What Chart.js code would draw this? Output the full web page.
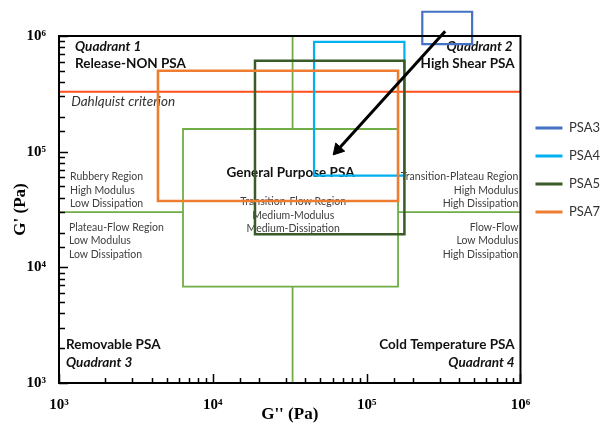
<!DOCTYPE html>
<html lang="en">
<head>
<meta charset="UTF-8">
<title>PSA viscoelastic windows</title>
<script src="https://cdn.jsdelivr.net/npm/chart.js"></script>
<style>
  html, body { margin: 0; padding: 0; background: #fff; }
  #wrap { width: 605px; height: 427px; }
</style>
</head>
<body>
<div id="wrap"><canvas id="chart"></canvas></div>
<script>
// window limits, G'' (x) and G' (y) in Pa
const psa3X = [2.3e5, 4.85e5], psa3Y = [8.5e5, 1.62e6];
const psa4X = [4.55e4, 1.76e5], psa4Y = [6.2e4, 8.9e5];
const psa5X = [1.88e4, 1.76e5], psa5Y = [1.93e4, 6.1e5];
const psa7X = [4.4e3, 1.6e5],  psa7Y = [3.75e4, 5.0e5];
const generalX = [6.4e3, 1.6e5], generalY = [6.8e3, 1.57e5];

const quadX = 3.3e4;       // vertical quadrant line
const quadY = 3.0e4;       // horizontal quadrant line
const dahlquistY = 3.3e5;  // Dahlquist criterion
const arrowX = [3.24e5, 6.5e4], arrowY = [1.1e6, 1.04e5];

const axisMin = 1e3, axisMax = 1e6;
const decadeLabels = { 3: "10³", 4: "10⁴", 5: "10⁵", 6: "10⁶" };

// text notes: [text, G'', G', align, kind]
const notes = [
  ["Quadrant 1", 1.27e3, 8.08e5, "left", "headItalic"],
  ["Release-NON PSA", 1.27e3, 5.78e5, "left", "head"],
  ["Dahlquist criterion", 1.2e3, 2.7e5, "left", "italic"],
  ["Quadrant 2", 8.9e5, 8.08e5, "right", "headItalic"],
  ["High Shear PSA", 9.16e5, 5.78e5, "right", "head"],
  ["Rubbery Region", 1.18e3, 6.11e4, "left", "note"],
  ["High Modulus", 1.18e3, 4.62e4, "left", "note"],
  ["Low Dissipation", 1.18e3, 3.55e4, "left", "note"],
  ["Plateau-Flow Region", 1.16e3, 2.21e4, "left", "note"],
  ["Low Modulus", 1.16e3, 1.69e4, "left", "note"],
  ["Low Dissipation", 1.16e3, 1.29e4, "left", "note"],
  ["General Purpose PSA", 3.2e4, 6.55e4, "center", "head"],
  ["Transition-Flow Region", 3.33e4, 3.67e4, "center", "note"],
  ["Medium-Modulus", 3.33e4, 2.78e4, "center", "note"],
  ["Medium-Dissipation", 3.33e4, 2.15e4, "center", "note"],
  ["Transition-Plateau Region", 9.7e5, 6.11e4, "right", "note"],
  ["High Modulus", 9.7e5, 4.62e4, "right", "note"],
  ["High Dissipation", 9.7e5, 3.55e4, "right", "note"],
  ["Flow-Flow", 9.7e5, 2.21e4, "right", "note"],
  ["Low Modulus", 9.7e5, 1.69e4, "right", "note"],
  ["High Dissipation", 9.7e5, 1.29e4, "right", "note"],
  ["Removable PSA", 1.11e3, 2.16e3, "left", "head"],
  ["Quadrant 3", 1.11e3, 1.5e3, "left", "headItalic"],
  ["Cold Temperature PSA", 9.16e5, 2.16e3, "right", "head"],
  ["Quadrant 4", 9.16e5, 1.5e3, "right", "headItalic"]
];

const noteFonts = {
  head: { font: "bold 13.5px Lato", color: "#111" },
  headItalic: { font: "italic bold 13.5px Lato", color: "#111" },
  italic: { font: "italic 13.5px Lato", color: "#333" },
  note: { font: "10.5px Lato", color: "#404040" }
};

function box(xs, ys) {
  return [
    { x: xs[0], y: ys[0] }, { x: xs[1], y: ys[0] },
    { x: xs[1], y: ys[1] }, { x: xs[0], y: ys[1] },
    { x: xs[0], y: ys[0] }
  ];
}

function isDecade(v) {
  const l = Math.log10(v);
  return Math.abs(l - Math.round(l)) < 1e-9;
}

function rectSet(label, xs, ys, color, width, order) {
  return {
    label, data: box(xs, ys), showLine: true, borderColor: color, backgroundColor: color,
    borderWidth: width, pointRadius: 0, borderCapStyle: "square", borderJoinStyle: "miter",
    order, clip: false
  };
}

function segment(pts, color, width, order) {
  return {
    label: "", data: pts, showLine: true, borderColor: color, backgroundColor: color,
    borderWidth: width, pointRadius: 0, order
  };
}

const green = "#70ad47";

const datasets = [
  rectSet("PSA3", psa3X, psa3Y, "#4472c4", 2.2, 1),
  rectSet("PSA4", psa4X, psa4Y, "#00b0f0", 2.2, 4),
  rectSet("PSA5", psa5X, psa5Y, "#3a5a27", 2.5, 3),
  rectSet("PSA7", psa7X, psa7Y, "#ed7d31", 2.6, 2),
  rectSet("", generalX, generalY, green, 1.8, 5),
  segment([{ x: axisMin, y: quadY }, { x: generalX[0], y: quadY }], green, 1.8, 7),
  segment([{ x: generalX[1], y: quadY }, { x: axisMax, y: quadY }], green, 1.8, 7),
  segment([{ x: quadX, y: axisMax }, { x: quadX, y: generalY[1] }], green, 1.8, 7),
  segment([{ x: quadX, y: generalY[0] }, { x: quadX, y: axisMin }], green, 1.8, 7),
  segment([{ x: axisMin, y: dahlquistY }, { x: axisMax, y: dahlquistY }], "#ff4f1a", 2, 6),
  {
    label: "", data: arrowX.map((x, i) => ({ x, y: arrowY[i] })), showLine: true,
    borderColor: "#000", backgroundColor: "#000", borderWidth: 3, order: 0, clip: false,
    pointRadius: [0, 7], pointStyle: "triangle", pointBorderColor: "#000", pointBorderWidth: 1,
    pointRotation: (c) => {
      const { x, y } = c.chart.scales;
      const dx = x.getPixelForValue(arrowX[1]) - x.getPixelForValue(arrowX[0]);
      const dy = y.getPixelForValue(arrowY[1]) - y.getPixelForValue(arrowY[0]);
      return Math.atan2(dy, dx) * 180 / Math.PI + 90;
    }
  }
];

const notesPlugin = {
  id: "notes",
  beforeDatasetsDraw(chart) {
    const { ctx, scales: { x, y } } = chart;
    ctx.save();
    ctx.textBaseline = "middle";
    notes.forEach(([text, gx, gy, align, kind]) => {
      ctx.font = noteFonts[kind].font;
      ctx.fillStyle = noteFonts[kind].color;
      ctx.textAlign = align;
      ctx.fillText(text, x.getPixelForValue(gx), y.getPixelForValue(gy));
    });
    ctx.restore();
  }
};

// ticks point into the plot, plus the closed frame
const framePlugin = {
  id: "frame",
  afterDraw(chart) {
    const { ctx, chartArea: a, scales: { x, y } } = chart;
    ctx.save();
    ctx.strokeStyle = "#000";
    ctx.lineWidth = 1.5;
    ctx.beginPath();
    x.ticks.forEach(t => {
      const px = Math.round(x.getPixelForValue(t.value)) + 0.5;
      ctx.moveTo(px, a.bottom);
      ctx.lineTo(px, a.bottom - (isDecade(t.value) ? 9 : 5));
    });
    y.ticks.forEach(t => {
      const py = Math.round(y.getPixelForValue(t.value)) + 0.5;
      ctx.moveTo(a.left, py);
      ctx.lineTo(a.left + (isDecade(t.value) ? 9 : 6), py);
    });
    ctx.stroke();
    ctx.lineWidth = 2;
    ctx.strokeRect(a.left, a.top, a.right - a.left, a.bottom - a.top);
    ctx.restore();
  }
};

const tickFont = { family: "'Liberation Serif', serif", size: 15, weight: "bold" };
const titleFont = { family: "'Liberation Serif', serif", size: 17, weight: "bold" };

function tickLabel(v) {
  if (!isDecade(v)) return "";
  return decadeLabels[Math.round(Math.log10(v))] || "";
}

new Chart(document.getElementById("chart"), {
  type: "scatter",
  data: { datasets },
  options: {
    responsive: true,
    maintainAspectRatio: false,
    animation: false,
    events: [],
    layout: { padding: { top: 36, left: 0, right: -5, bottom: 0 } },
    scales: {
      x: {
        type: "logarithmic", min: axisMin, max: axisMax,
        grid: { display: false }, border: { display: false },
        ticks: { autoSkip: false, maxRotation: 0, padding: 5, color: "#000", font: tickFont, callback: tickLabel },
        title: { display: true, text: "G'' (Pa)", color: "#000", font: titleFont, padding: { top: 0, bottom: 2 } },
        afterFit: s => { s.height = 44; }
      },
      y: {
        type: "logarithmic", min: axisMin, max: axisMax,
        grid: { display: false }, border: { display: false },
        ticks: { autoSkip: false, padding: 5, color: "#000", font: tickFont, callback: tickLabel },
        title: { display: true, text: "G' (Pa)", color: "#000", font: titleFont, padding: { top: 10, bottom: 0 } },
        afterFit: s => { s.width = 59; }
      }
    },
    plugins: {
      tooltip: { enabled: false },
      legend: {
        position: "right",
        align: "start",
        title: { display: true, text: "", padding: { top: 56, bottom: 0 } },
        labels: {
          boxWidth: 27, boxHeight: 3, padding: 15, color: "#333",
          font: { family: "Lato", size: 13 },
          filter: item => item.text.startsWith("PSA"),
          sort: (a, b) => a.datasetIndex - b.datasetIndex,
          generateLabels: chart => Chart.defaults.plugins.legend.labels.generateLabels(chart)
            .map(l => Object.assign(l, { lineWidth: 0 }))
        }
      }
    }
  },
  plugins: [notesPlugin, framePlugin]
});
</script>
</body>
</html>
